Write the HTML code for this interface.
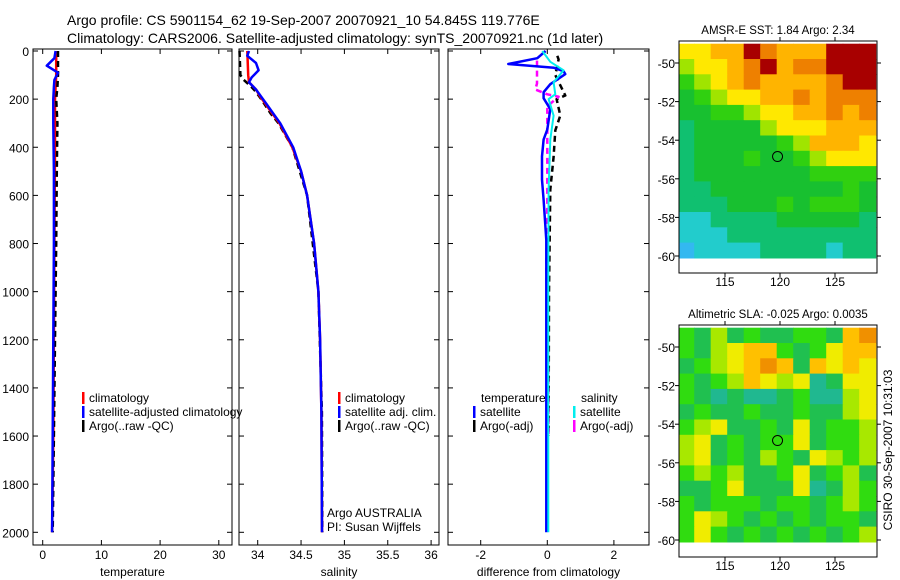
<!DOCTYPE html>
<html><head><meta charset="utf-8">
<style>
html,body{margin:0;padding:0;background:#fff;}
svg{display:block;font-family:"Liberation Sans",sans-serif;}
text{fill:#000;}
</style></head>
<body>
<svg id="fig" width="900" height="580" viewBox="0 0 900 580" xmlns="http://www.w3.org/2000/svg">
<text x="67" y="25" font-size="14">Argo profile: CS 5901154_62 19-Sep-2007 20070921_10 54.845S 119.776E</text>
<text x="67" y="43" font-size="14">Climatology: CARS2006. Satellite-adjusted climatology: synTS_20070921.nc (1d later)</text>
<g id="g"></g>
</svg>
<script>
// ---- profile data (depth in m) ----
const depthTicks = [0,200,400,600,800,1000,1200,1400,1600,1800,2000];
const tempTicks = [0,10,20,30];
const salTicks = [34,34.5,35,35.5,36];
const diffTicks = [-2,0,2];

const tClimDepth = [0,50,100,150,200,400,800,1200,1600,2000];
const tClimVal   = [2.3,2.3,2.3,2.2,2.1,2.1,2.0,1.9,1.8,1.6];
const tSatDepth = [0,30,61,90,120,150,200,300,500,800,1200,1600,2000];
const tSatVal   = [2.2,2.0,0.7,2.6,2.0,1.9,1.8,1.8,1.9,1.9,1.8,1.7,1.6];
const tArgoDepth = [0,50,100,150,200,300,500,800,1200,1600,2000];
const tArgoVal   = [2.6,2.6,2.6,2.5,2.3,2.5,2.4,2.3,2.1,1.9,1.7];

const sClimDepth = [0,100,130,160,190,220,260,300,400,500,600,800,1000,1200,1500,2000];
const sClimVal   = [33.88,33.89,33.9,33.98,34.03,34.09,34.17,34.25,34.4,34.5,34.57,34.65,34.7,34.72,34.735,34.742];
const sSatDepth = [0,20,50,80,110,130,160,190,220,260,300,400,500,600,800,1000,1200,1500,2000];
const sSatVal   = [33.9,33.88,33.98,34.01,33.93,33.9,33.98,34.04,34.1,34.18,34.26,34.41,34.5,34.57,34.65,34.7,34.72,34.735,34.742];
const sArgoDepth = [0,100,120,150,170,200,260,300,400,600,1000,1500,2000];
const sArgoVal   = [33.79,33.8,33.84,33.93,33.98,34.04,34.15,34.24,34.4,34.57,34.7,34.74,34.745];

const dTSatDepth = [0,30,54,70,84,96,138,171,196,242,326,368,438,535,618,785,1200,2000];
const dTSatVal   = [-0.05,-0.3,-1.17,0.2,0.49,0.54,0.09,-0.11,-0.11,0.09,0,-0.11,-0.16,-0.16,-0.11,-0.03,-0.03,-0.03];
const dSSatDepth = [0,45,80,130,180,200,268,368,576,1000,2000];
const dSSatVal   = [-0.15,0.09,0.49,0.19,0.24,0.04,0.19,0.09,0.04,0.03,0.03];
const dTArgoDepth = [20,35,100,185,200,268,330,440,576,1000,1600];
const dTArgoVal   = [0.3,0.34,0.24,0.54,0.28,0.39,0.24,0.19,0.09,0.05,0.04];
const dSArgoDepth = [40,60,135,160,180,190,230,640,900,1300,1600];
const dSArgoVal   = [-0.31,-0.31,-0.31,-0.36,0,0.34,0,0,-0.03,0.03,0.04];

// ---- map data (rows top->bottom, lat -49 to -60.1; cols lon 110.7 to 128.7) ----
const mapLonTicks = [115,120,125];
const mapLatTicks = [-50,-52,-54,-56,-58,-60];
const sstRows = ["667798777999","566789788999","456787777899","345667787888","334456677878","233335666777","233333457776","233343345666","233333334444","223333333343","222333434443","112222333332","111222222222","011112222122"];
const slaRows = ["435343344378","435677434677","345678737676","434576562366","432322342256","343343343356","456334363445","563434463445","563435436545","454533463453","334633362354","434443443454","465434343443","464343434345"];
const sstColors = ["#33b8f0","#22cccc","#10c070","#18c030","#30d010","#a0e400","#ffe800","#ffb400","#ee8000","#a80000"];
const slaColors = ["#2090e0","#22cccc","#20b890","#20c050","#30dc10","#a8e800","#f0ec00","#ffc000","#f09000","#d06000"];

const NS="http://www.w3.org/2000/svg";
const G=document.getElementById('g');
function el(tag,attrs,parent){const e=document.createElementNS(NS,tag);for(const k in attrs)e.setAttribute(k,attrs[k]);(parent||G).appendChild(e);return e;}
function txt(x,y,s,size,anchor,parent){const t=el('text',{x:x,y:y,'font-size':size,'text-anchor':anchor||'start'},parent);t.textContent=s;return t;}

const yTop=49, yBot=545;
const yD = d => 51 + d*0.24065;

function panel(name,x0,x1,xf,ticks,label,showY){
  const g=el('g',{});
  
  
  el('rect',{x:x0,y:yTop,width:x1-x0,height:yBot-yTop,fill:'none',stroke:'#000','stroke-width':1},g);
  depthTicks.forEach(d=>{
    const y=yD(d);
    el('line',{x1:x0,x2:x0+5,y1:y,y2:y,stroke:'#000'},g);
    el('line',{x1:x1,x2:x1-5,y1:y,y2:y,stroke:'#000'},g);
    if(showY){const t=txt(x0-4,y+5,String(d),12,'end',g);}
  });
  ticks.forEach(v=>{
    const x=xf(v);
    el('line',{x1:x,x2:x,y1:yBot,y2:yBot-5,stroke:'#000'},g);
    el('line',{x1:x,x2:x,y1:yTop,y2:yTop+5,stroke:'#000'},g);
    const t=txt(x,559,String(v),12,'middle',g);
    
    
  });
  const l=txt((x0+x1)/2,576,label,12,'middle',g);
  
  
  return g;
}
function line(g,name,ds,vs,xf,color,dash,w){
  const pts=ds.map((d,i)=>xf(vs[i]).toFixed(1)+','+yD(d).toFixed(1)).join(' ');
  const p=el('polyline',{points:pts,fill:'none',stroke:color,'stroke-width':w||2.5,'stroke-dasharray':dash||'none','stroke-linejoin':'round'},g);
  
  
}
function legend(g,x,y,color,label,name){
  const r=el('rect',{x:x,y:y-10,width:2.5,height:12,fill:color},g);
  
  
  const t=txt(x+7,y,label,12,'start',g);
  
  
}

// Panel 1 temperature
const xT = v => 42.7 + v*5.87;
const p1=panel('temperature',33,232,xT,tempTicks,'temperature',true);
line(p1,'temp-climatology-line',tClimDepth,tClimVal,xT,'#ff0000');
line(p1,'temp-argo-line',tArgoDepth,tArgoVal,xT,'#000','6,4');
line(p1,'temp-satellite-line',tSatDepth,tSatVal,xT,'#0000ff');
legend(p1,82,402,'#ff0000','climatology','temp-legend-climatology');
legend(p1,82,416,'#0000ff','satellite-adjusted climatology','temp-legend-satellite');
legend(p1,82,430,'#000','Argo(..raw -QC)','temp-legend-argo');

// Panel 2 salinity
const xS = v => 257.7 + (v-34)*86.7;
const p2=panel('salinity',239,439,xS,salTicks,'salinity',false);
line(p2,'sal-argo-line',sArgoDepth,sArgoVal,xS,'#000','6,4');
line(p2,'sal-climatology-line',sClimDepth,sClimVal,xS,'#ff0000');
line(p2,'sal-satellite-line',sSatDepth,sSatVal,xS,'#0000ff');
legend(p2,338,402,'#ff0000','climatology','sal-legend-climatology');
legend(p2,338,416,'#0000ff','satellite adj. clim.','sal-legend-satellite');
legend(p2,338,430,'#000','Argo(..raw -QC)','sal-legend-argo');
const a1=txt(327,517,'Argo AUSTRALIA',12,'start',p2);

const a2=txt(327,531,'PI: Susan Wijffels',12,'start',p2);


// Panel 3 difference
const xDf = v => 547.3 + v*33.3;
const p3=panel('difference',448,649,xDf,diffTicks,'difference from climatology',false);
line(p3,'diff-temp-argo-line',dTArgoDepth,dTArgoVal,xDf,'#000','6,4');
line(p3,'diff-sal-argo-line',dSArgoDepth,dSArgoVal,xDf,'#ff00ff','6,4');
line(p3,'diff-temp-satellite-line',dTSatDepth,dTSatVal,xDf,'#0000ff');
line(p3,'diff-sal-satellite-line',dSSatDepth,dSSatVal,xDf,'#00eeee',null,2);
{const t=txt(481,402,'temperature',12,'start',p3);}
{const t=txt(581,402,'salinity',12,'start',p3);}
legend(p3,473,416,'#0000ff','satellite','diff-legend-temp-satellite');
legend(p3,473,430,'#000','Argo(-adj)','diff-legend-temp-argo');
legend(p3,573,416,'#00eeee','satellite','diff-legend-sal-satellite');
legend(p3,573,430,'#ff00ff','Argo(-adj)','diff-legend-sal-argo');

// Maps
function map(name,title,rows,colors,top,bot,lat50y,lat60y){
  const x0=679,x1=877;
  const g=el('g',{});
  
  
  const lonX = lon => 780 + (lon-120)*11;
  const latY = lat => lat50y + (-50-lat)*(lat60y-lat50y)/10;
  const nR=rows.length,nC=rows[0].length;
  const lonMin=110.7,lonMax=128.7,latMax=-49,latMin=-60.1;
  for(let r=0;r<nR;r++)for(let c=0;c<nC;c++){
    const v=+rows[r][c];
    const la0=latMax+(latMin-latMax)*r/nR, la1=latMax+(latMin-latMax)*(r+1)/nR;
    const lo0=lonMin+(lonMax-lonMin)*c/nC, lo1=lonMin+(lonMax-lonMin)*(c+1)/nC;
    const xa=Math.max(x0,lonX(lo0)), xb=Math.min(x1,lonX(lo1));
    const ya=Math.max(top,latY(la0)), yb=latY(la1);
    const cell=el('rect',{x:xa.toFixed(1),y:ya.toFixed(1),width:(xb-xa+0.6).toFixed(1),height:(yb-ya+0.6).toFixed(1),fill:colors[v]},g);
    
    
  }
  el('rect',{x:x0,y:top,width:x1-x0,height:bot-top,fill:'none',stroke:'#000'},g);
  mapLatTicks.forEach(l=>{const y=latY(l);el('line',{x1:x0,x2:x0-4,y1:y,y2:y,stroke:'#000'},g);el('line',{x1:x1,x2:x1+4,y1:y,y2:y,stroke:'#000'},g);
    const t=txt(x0-4,y+5,String(l),12,'end',g);});
  mapLonTicks.forEach(l=>{const x=lonX(l);el('line',{x1:x,x2:x,y1:bot,y2:bot+4,stroke:'#000'},g);el('line',{x1:x,x2:x,y1:top,y2:top-4,stroke:'#000'},g);
    const t=txt(x,bot+13,String(l),12,'middle',g);});
  const c=el('circle',{cx:lonX(119.776),cy:latY(-54.845),r:5,fill:'none',stroke:'#000','stroke-width':1},g);
  
  
  const t=txt(778,top-7,title,11.5,'middle',g);
  
  
}
map('sst-map','AMSR-E SST: 1.84 Argo: 2.34',sstRows,sstColors,41,273,63,256);
map('sla-map','Altimetric SLA: -0.025 Argo: 0.0035',slaRows,slaColors,325,557,347,540);
const st=txt(0,0,'CSIRO 30-Sep-2007 10:31:03',12,'middle');
st.setAttribute('transform','translate(892,450) rotate(-90)');


</script>
</body></html>
